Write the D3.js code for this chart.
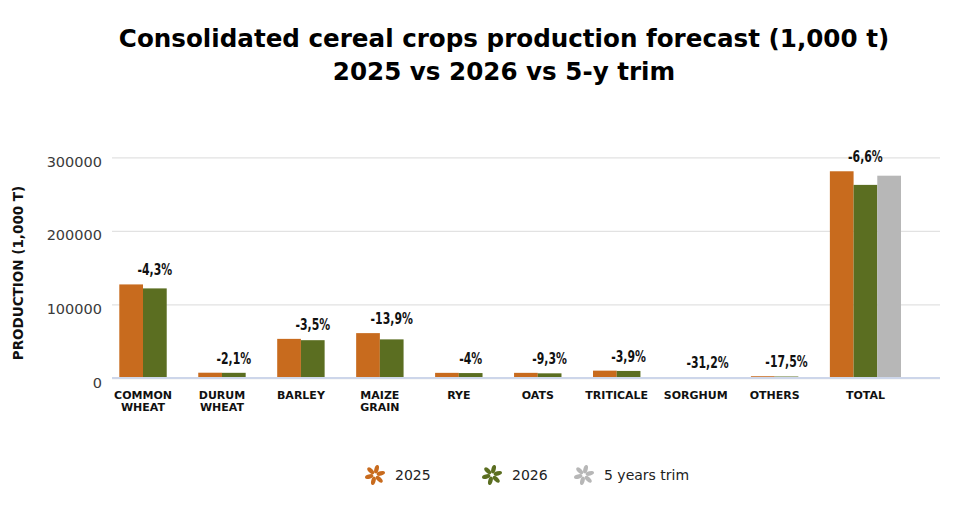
<!DOCTYPE html>
<html>
<head>
<meta charset="utf-8">
<script src="https://cdn.jsdelivr.net/npm/d3@7"></script>
<style>
  body { margin: 0; background: #ffffff; }
  svg { display: block; }
</style>
</head>
<body>
<div id="vis"></div>
<script>
// Chart data
const CATEGORIES = ["COMMON\nWHEAT", "DURUM\nWHEAT", "BARLEY", "MAIZE\nGRAIN", "RYE",
                    "OATS", "TRITICALE", "SORGHUM", "OTHERS", "TOTAL"];
const VALUES_2025 = [127200, 7200, 53200, 61000, 7000, 7000, 10000, 1000, 2400, 281000];
const VALUES_2026 = [121800, 7050, 51400, 52500, 6700, 6350, 9600, 700, 2000, 262500];
const VALUES_TRIM = [null, null, null, null, null, null, null, null, null, 275000];
const CHANGE_LABELS = ["-4,3%", "-2,1%", "-3,5%", "-13,9%", "-4%", "-9,3%",
                       "-3,9%", "-31,2%", "-17,5%", "-6,6%"];
const SERIES = ["2025", "2026", "5 years trim"];
const Y_TICKS = [0, 100000, 200000, 300000];

const COLORS = {"2025": "#c86b1e", "2026": "#5b6e21", "5 years trim": "#b7b7b7"};

// Frame
const FRAME_WIDTH = 964;
const FRAME_HEIGHT = 514;
const PLOT = {left: 112, right: 940, top: 157.3, bottom: 378};
const BARS = {first: 119.3, last: 901};
const GAP = 1.33; // gap between groups, in bar widths

const FRAME = d3.select("#vis")
                .append("svg")
                  .attr("width", FRAME_WIDTH)
                  .attr("height", FRAME_HEIGHT);

// Build table: one row per category, only series that have a value
const data = CATEGORIES.map((c, i) => {
  const vals = [VALUES_2025[i], VALUES_2026[i], VALUES_TRIM[i]];
  const bars = SERIES.map((s, k) => ({series: s, value: vals[k]}))
                     .filter((b) => b.value !== null);
  return {category: c, bars: bars, label: CHANGE_LABELS[i]};
});

// groups are laid out one after another: n bars + a fixed gap
let offset = 0;
data.forEach((d) => {
  d.start = offset;
  offset += d.bars.length + GAP;
});
const TOTAL_UNITS = offset - GAP;

const X_SCALE = d3.scaleLinear()
                  .domain([0, TOTAL_UNITS])
                  .range([BARS.first, BARS.last]);
const BAR_W = X_SCALE(1) - X_SCALE(0);

const Y_SCALE = d3.scaleLinear()
                  .domain([0, 300000])
                  .range([PLOT.bottom, PLOT.top]);

// Gridlines + y tick labels
const yAxis = FRAME.append("g")
                   .attr("transform", "translate(" + PLOT.left + ",0)")
                   .call(d3.axisLeft(Y_SCALE)
                           .tickValues(Y_TICKS)
                           .tickSize(-(PLOT.right - PLOT.left))
                           .tickPadding(10)
                           .tickFormat(d3.format("d")));
yAxis.select(".domain").remove();
yAxis.selectAll(".tick line")
     .attr("stroke", "#e2e2e2")
     .attr("stroke-width", 1.3);
yAxis.selectAll(".tick text")
     .attr("font-family", "DejaVu Sans, sans-serif")
     .attr("font-size", "14.5px")
     .attr("fill", "#3a3a3a")
     .attr("dy", "0.62em");

// Bars
const groups = FRAME.selectAll(".group")
  .data(data)
  .enter()
  .append("g")
    .attr("class", "group");

groups.selectAll("rect")
  .data((d) => d.bars.map((b, k) => ({...b, pos: d.start + k})))
  .enter()
  .append("rect")
    .attr("x", (b) => X_SCALE(b.pos))
    .attr("y", (b) => Y_SCALE(b.value))
    .attr("width", BAR_W)
    .attr("height", (b) => Y_SCALE(0) - Y_SCALE(b.value))
    .attr("fill", (b) => COLORS[b.series]);

// Baseline
FRAME.append("line")
     .attr("x1", PLOT.left)
     .attr("x2", PLOT.right)
     .attr("y1", Y_SCALE(0))
     .attr("y2", Y_SCALE(0))
     .attr("stroke", "#cdd6ea")
     .attr("stroke-width", 2);

// Change labels, centred over the 2026 bar (squeezed to look condensed)
groups.append("text")
  .attr("transform", (d) => "translate(" + X_SCALE(d.start + 1.5) + "," +
        (Y_SCALE(d3.max(d.bars, (b) => b.value)) - 9) + ") scale(0.68,1)")
  .attr("text-anchor", "middle")
  .attr("font-family", "DejaVu Sans, sans-serif")
  .attr("font-weight", "bold")
  .attr("font-size", "16px")
  .attr("fill", "#111")
  .text((d) => d.label);

// Category labels
groups.append("text")
  .attr("x", (d) => X_SCALE(d.start + d.bars.length / 2))
  .attr("y", 399)
  .attr("text-anchor", "middle")
  .attr("font-family", "DejaVu Sans, sans-serif")
  .attr("font-weight", "bold")
  .attr("font-size", "11px")
  .attr("fill", "#111")
  .each(function (d) {
    const lines = d.category.split("\n");
    d3.select(this).selectAll("tspan")
      .data(lines)
      .enter()
      .append("tspan")
        .attr("x", X_SCALE(d.start + d.bars.length / 2))
        .attr("dy", (l, i) => i === 0 ? 0 : 12)
        .text((l) => l);
  });

// Y axis title
FRAME.append("text")
     .attr("transform", "translate(23," + 273 + ") rotate(-90)")
     .attr("text-anchor", "middle")
     .attr("font-family", "DejaVu Sans, sans-serif")
     .attr("font-weight", "bold")
     .attr("font-size", "13.5px")
     .attr("fill", "#111")
     .text("PRODUCTION (1,000 T)");

// Title
const TITLE = ["Consolidated cereal crops production forecast (1,000 t)",
               "2025 vs 2026 vs 5-y trim"];
FRAME.selectAll(".title")
     .data(TITLE)
     .enter()
     .append("text")
       .attr("class", "title")
       .attr("x", 504)
       .attr("y", (d, i) => 47 + i * 33)
       .attr("text-anchor", "middle")
       .attr("font-family", "DejaVu Sans, sans-serif")
       .attr("font-weight", "bold")
       .attr("font-size", "24.6px")
       .attr("fill", "#000")
       .text((d) => d);

// Legend with small flower icons
const LEGEND_X = [375, 492, 584];
const legend = FRAME.selectAll(".legend")
  .data(SERIES)
  .enter()
  .append("g")
    .attr("class", "legend")
    .attr("transform", (d, i) => "translate(" + LEGEND_X[i] + ",475)");

legend.selectAll("ellipse")
  .data((s) => d3.range(6).map((k) => ({s: s, a: k * 60 + 15})))
  .enter()
  .append("ellipse")
    .attr("cx", 0)
    .attr("cy", -6)
    .attr("rx", 2.2)
    .attr("ry", 4.3)
    .attr("transform", (p) => "rotate(" + p.a + ")")
    .attr("fill", (p) => COLORS[p.s]);

legend.append("text")
  .attr("x", 20)
  .attr("y", 5)
  .attr("font-family", "DejaVu Sans, sans-serif")
  .attr("font-size", "14px")
  .attr("fill", "#222")
  .text((d) => d);
</script>
</body>
</html>
